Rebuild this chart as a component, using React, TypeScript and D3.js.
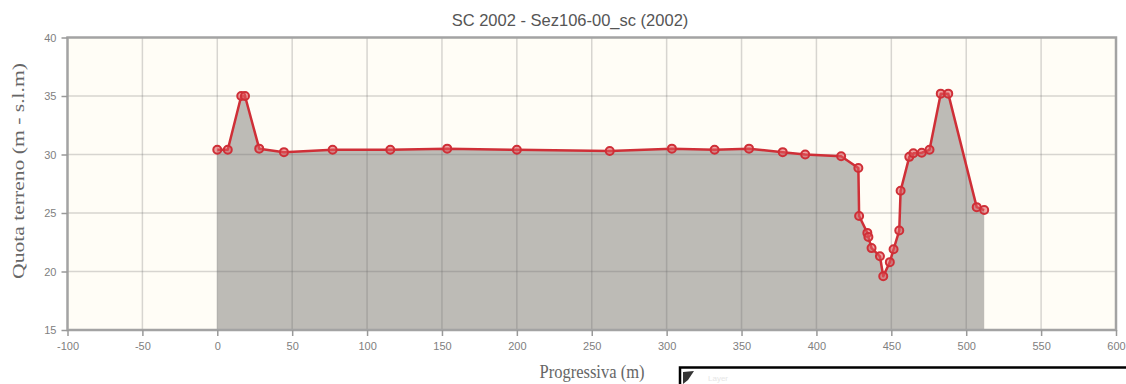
import React, { useEffect, useRef } from "react";
import * as d3 from "d3";

// progressive distance (m) and ground elevation (m s.l.m.)
const progressiva = [
  0, 7, 16, 18.5, 28, 44.5, 77, 115.5, 153.5, 200, 262, 303.5, 332, 355, 377.5,
  392.5, 416.5, 428, 428.5, 434, 434.7, 436.8, 442.4, 444.6, 449, 451.5, 455.3,
  456.2, 462, 464.7, 470.3, 475.5, 483, 488, 507, 512,
];
const quota = [
  30.4, 30.4, 35.0, 35.0, 30.5, 30.2, 30.4, 30.4, 30.5, 30.4, 30.3, 30.5, 30.4,
  30.5, 30.2, 30.0, 29.85, 28.85, 24.75, 23.3, 22.95, 22.0, 21.3, 19.6, 20.8,
  21.9, 23.5, 26.9, 29.8, 30.1, 30.15, 30.4, 35.2, 35.2, 25.5, 25.25,
];
const xTicks = [-100, -50, 0, 50, 100, 150, 200, 250, 300, 350, 400, 450, 500, 550, 600];
const yTicks = [15, 20, 25, 30, 35, 40];
const title = "SC 2002 - Sez106-00_sc (2002)";
const xLabel = "Progressiva (m)";
const yLabel = "Quota terreno (m - s.l.m)";

export default function App() {
  const svgRef = useRef<SVGSVGElement>(null);

  useEffect(() => {
    const W = 1126;
    const H = 384;
    const margin = { top: 37.5, right: 10, bottom: 54, left: 67.5 };
    const svg = d3.select(svgRef.current);
    svg.selectAll("*").remove();
    svg.attr("width", W).attr("height", H);

    const x = d3.scaleLinear().domain([-100, 600]).range([margin.left, W - margin.right]);
    const y = d3.scaleLinear().domain([15, 40]).range([H - margin.bottom, margin.top]);
    const data = progressiva.map((p, i) => ({ p, q: quota[i] }));
    const sans = "'Liberation Sans', Arial, sans-serif";
    const serif = "'Liberation Serif', 'Times New Roman', serif";

    svg.append("rect").attr("width", W).attr("height", H).attr("fill", "#ffffff");

    // plot background
    svg.append("rect")
      .attr("x", x(-100)).attr("y", y(40))
      .attr("width", x(600) - x(-100)).attr("height", y(15) - y(40))
      .attr("fill", "#fffdf6");

    // area under profile
    const area = d3.area<{ p: number; q: number }>()
      .x(d => x(d.p))
      .y0(y(15))
      .y1(d => y(d.q));
    svg.append("path").datum(data).attr("d", area).attr("fill", "#bdbbb6");

    // grid on top
    const grid = svg.append("g").attr("stroke", "rgba(100,100,100,0.26)").attr("stroke-width", 1.5);
    grid.selectAll("line.v").data(xTicks.slice(1, -1)).enter().append("line")
      .attr("x1", d => x(d)).attr("x2", d => x(d))
      .attr("y1", y(40)).attr("y2", y(15));
    grid.selectAll("line.h").data(yTicks.slice(1, -1)).enter().append("line")
      .attr("x1", x(-100)).attr("x2", x(600))
      .attr("y1", d => y(d)).attr("y2", d => y(d));

    // frame
    svg.append("rect")
      .attr("x", x(-100)).attr("y", y(40))
      .attr("width", x(600) - x(-100)).attr("height", y(15) - y(40))
      .attr("fill", "none").attr("stroke", "#a3a3a3").attr("stroke-width", 2.5);

    // axes
    const xAxis = svg.append("g")
      .attr("transform", `translate(0,${y(15)})`)
      .call(d3.axisBottom(x).tickValues(xTicks).tickFormat(d => String(d)).tickSize(6).tickPadding(6));
    const yAxis = svg.append("g")
      .attr("transform", `translate(${x(-100)},0)`)
      .call(d3.axisLeft(y).tickValues(yTicks).tickFormat(d => String(d)).tickSize(6).tickPadding(5));
    [xAxis, yAxis].forEach(a => {
      a.select(".domain").remove();
      a.selectAll("line").attr("stroke", "#999").attr("stroke-width", 1.5);
      a.selectAll("text").attr("fill", "#808080").attr("font-family", sans).attr("font-size", 11);
    });

    // profile line + markers
    const line = d3.line<{ p: number; q: number }>().x(d => x(d.p)).y(d => y(d.q));
    svg.append("path").datum(data).attr("d", line)
      .attr("fill", "none").attr("stroke", "#cf2f37").attr("stroke-width", 2.5)
      .attr("stroke-linejoin", "round");
    svg.selectAll("circle.pt").data(data).enter().append("circle")
      .attr("cx", d => x(d.p)).attr("cy", d => y(d.q)).attr("r", 4)
      .attr("fill", "rgba(225,90,95,0.55)").attr("stroke", "#cf2f37").attr("stroke-width", 2);

    // texts
    svg.append("text").attr("x", 570).attr("y", 26).attr("text-anchor", "middle")
      .attr("font-family", sans).attr("font-size", 16.5).attr("fill", "#555").text(title);
    svg.append("text")
      .attr("transform", "translate(592,378) scale(1,1.2)")
      .attr("text-anchor", "middle")
      .attr("font-family", serif).attr("font-size", 16.5).attr("fill", "#666").text(xLabel);
    svg.append("text")
      .attr("transform", "translate(24,171) scale(1,1.35) rotate(-90)")
      .attr("text-anchor", "middle")
      .attr("font-family", serif).attr("font-size", 16).attr("fill", "#666").text(yLabel);

    // overlapping box at bottom right
    svg.append("rect").attr("x", 680).attr("y", 367.5).attr("width", 460).attr("height", 30)
      .attr("fill", "#fff").attr("stroke", "#000").attr("stroke-width", 2.5);
    svg.append("path").attr("d", "M683,372 L694,371 L688,380 L683,384 Z").attr("fill", "#333");
    svg.append("text").attr("x", 708).attr("y", 381).attr("font-family", sans)
      .attr("font-size", 8).attr("fill", "#e6e6e6").text("Layer");
  }, []);

  return (
    <svg ref={svgRef} style={{ position: "absolute", left: 0, top: 0, display: "block" }} />
  );
}
